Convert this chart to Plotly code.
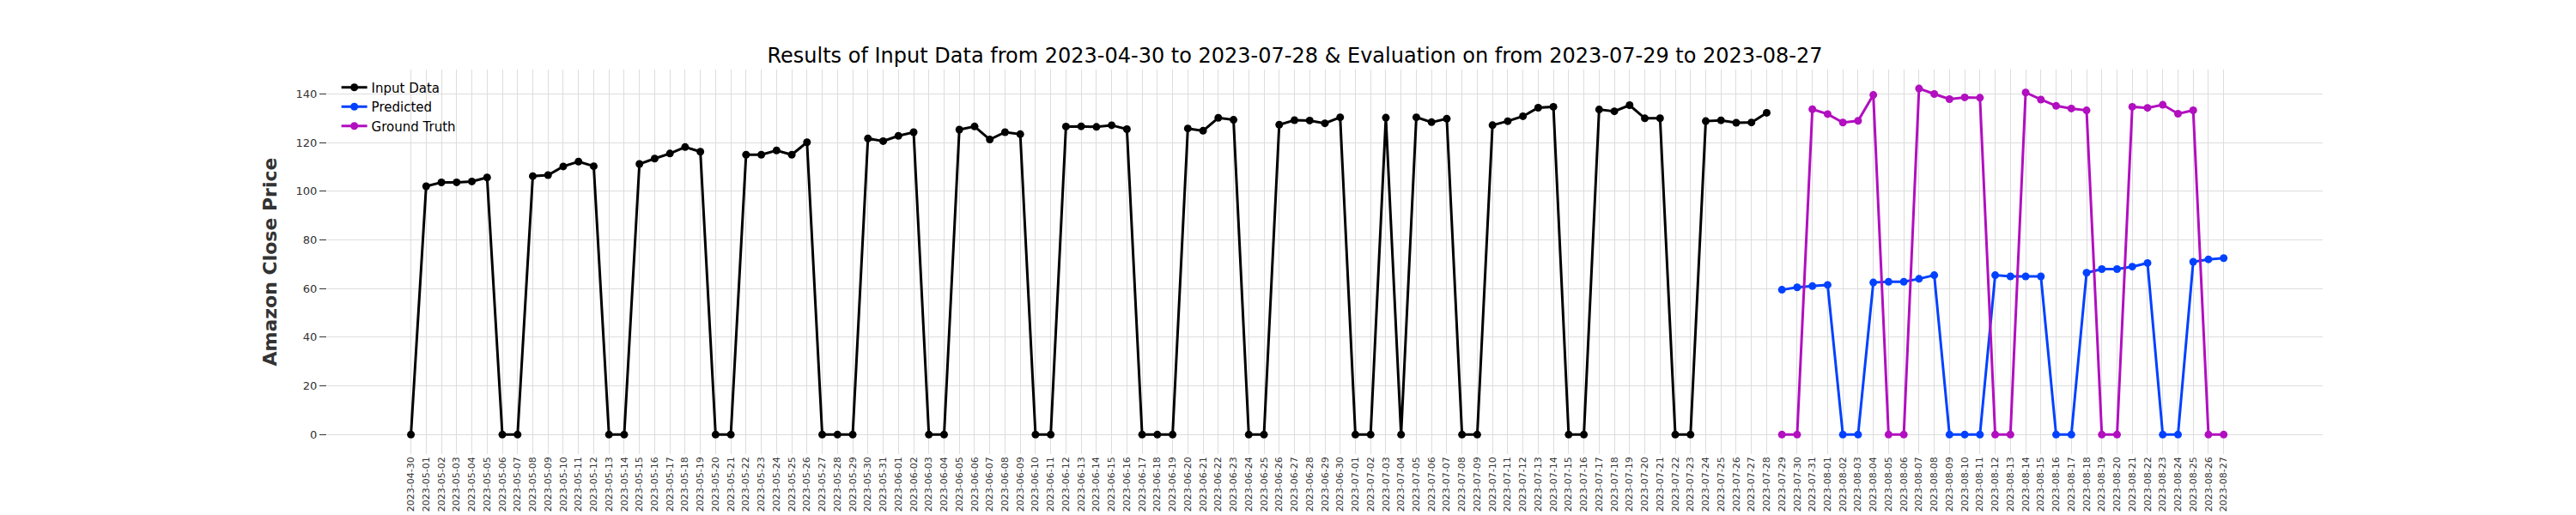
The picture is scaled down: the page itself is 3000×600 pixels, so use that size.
import pandas as pd
import plotly.graph_objects as go

input_dates = pd.date_range('2023-04-30', '2023-07-28').strftime('%Y-%m-%d').tolist()
eval_dates = pd.date_range('2023-07-29', '2023-08-27').strftime('%Y-%m-%d').tolist()

input_vals = [0,
              102.05, 103.63, 103.65, 104.0, 105.66, 0, 0,
              106.22, 106.62, 110.19, 112.18, 110.26, 0, 0,
              111.2, 113.4, 115.5, 118.15, 116.25, 0, 0,
              115.01, 114.99, 116.75, 115.0, 120.11, 0, 0,
              0, 121.66, 120.58, 122.77, 124.25, 0, 0,
              125.3, 126.61, 121.23, 124.25, 123.43, 0, 0,
              126.57, 126.66, 126.42, 127.11, 125.49, 0, 0,
              0, 125.78, 124.83, 130.15, 129.33, 0, 0,
              127.33, 129.18, 129.04, 127.9, 130.36, 0, 0,
              130.22, 0, 130.38, 128.36, 129.78, 0, 0,
              127.13, 128.78, 130.8, 134.3, 134.68, 0, 0,
              133.56, 132.83, 135.36, 129.96, 130.0, 0, 0,
              128.8, 129.13, 128.15, 128.25, 132.21]

predicted = [59.5, 60.5, 61.0, 61.5, 0, 0,
             62.5, 62.8, 62.8, 64.0, 65.5, 0, 0, 0,
             65.5, 65.0, 65.0, 65.0, 0, 0,
             66.5, 68.0, 68.0, 69.0, 70.5, 0, 0,
             71.0, 72.0, 72.5]

ground_truth = [0, 0,
                133.68, 131.69, 128.21, 128.91, 139.57, 0, 0,
                142.22, 139.94, 137.85, 138.56, 138.41, 0, 0,
                140.57, 137.67, 135.07, 133.98, 133.22, 0, 0,
                134.68, 134.25, 135.52, 131.84, 133.26, 0, 0]

all_dates = input_dates + eval_dates

fig = go.Figure()
fig.add_trace(go.Scatter(x=input_dates, y=input_vals, name='Input Data', mode='lines+markers',
                         line=dict(color='black', width=3), marker=dict(size=9)))
fig.add_trace(go.Scatter(x=eval_dates, y=predicted, name='Predicted', mode='lines+markers',
                         line=dict(color='#0041ff', width=3), marker=dict(size=9)))
fig.add_trace(go.Scatter(x=eval_dates, y=ground_truth, name='Ground Truth', mode='lines+markers',
                         line=dict(color='#b10fbf', width=3), marker=dict(size=9)))

fig.update_layout(
    width=3000, height=600,
    plot_bgcolor='white', paper_bgcolor='white',
    font=dict(family='DejaVu Sans', color='#333'),
    title=dict(text='Results of Input Data from 2023-04-30 to 2023-07-28 & Evaluation on from 2023-07-29 to 2023-08-27',
               x=0.5, xanchor='center', y=0.905, yanchor='middle', font=dict(size=24, color='black')),
    margin=dict(l=373, r=303, t=73, b=64),
    legend=dict(x=0.005, y=0.99, xanchor='left', yanchor='top', font=dict(size=15, color='black'),
                bgcolor='rgba(0,0,0,0)'),
)
fig.update_xaxes(type='category', categoryorder='array', categoryarray=all_dates,
                 tickangle=-90, tickfont=dict(size=11), showgrid=True, gridcolor='#dddddd',
                 range=[-5.5, 125.5], showline=False, zeroline=False, ticks='')
fig.update_yaxes(title=dict(text='<b>Amazon Close Price</b>', font=dict(size=22, color='#333')),
                 range=[-8, 150], tickvals=[0, 20, 40, 60, 80, 100, 120, 140], tickfont=dict(size=13),
                 showgrid=True, gridcolor='#dddddd', zeroline=False, ticks='outside', ticklen=8,
                 tickcolor='#333')

fig.write_html('out.html')
